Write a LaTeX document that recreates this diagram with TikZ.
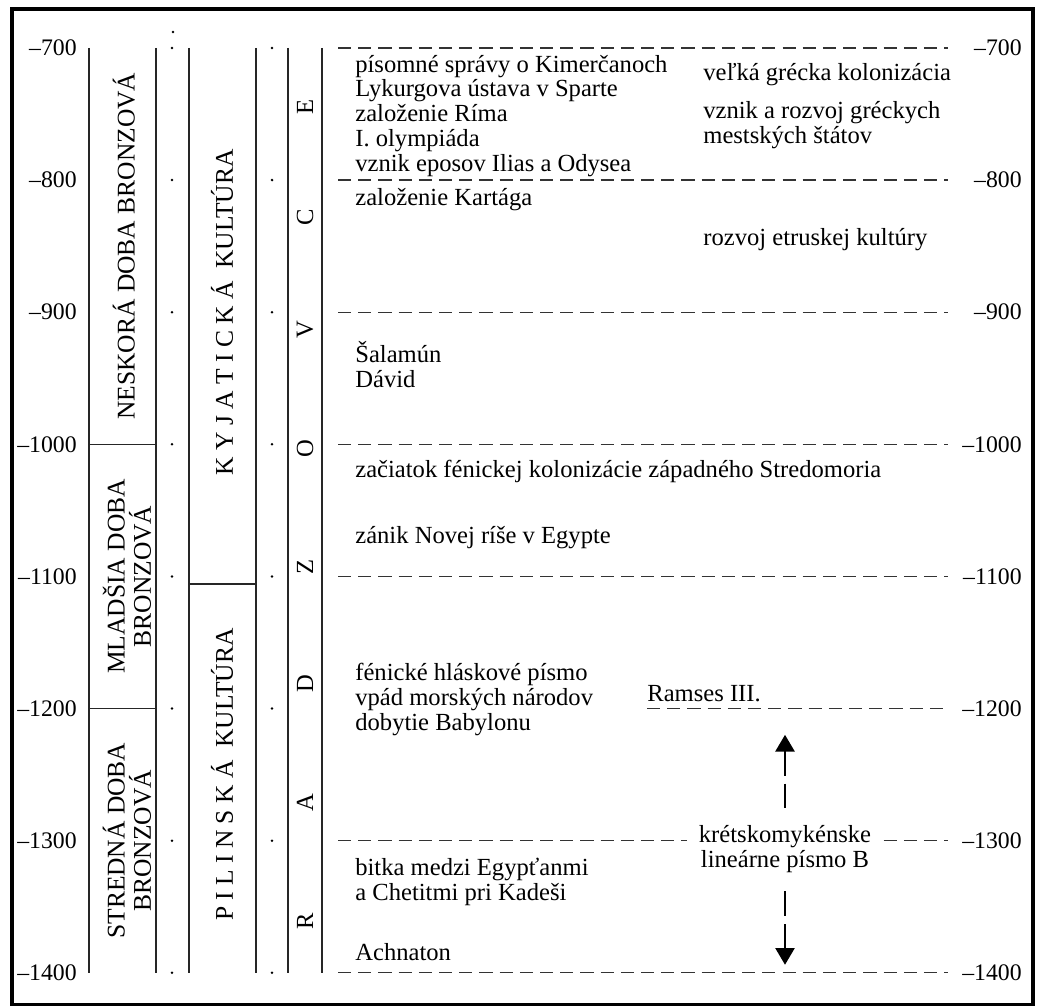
\documentclass[tikz,border=0pt]{standalone}
\usepackage{fontspec}
\setmainfont{Liberation Serif}
\usetikzlibrary{arrows.meta}
\tikzset{
  yearlab/.style={anchor=east,inner sep=0pt,font=\fontsize{13.5}{14}\selectfont},
  event/.style={anchor=west,align=left,inner sep=0pt,font=\fontsize{14}{14.2}\selectfont},
  period/.style={rotate=90,align=center,inner sep=0pt,font=\fontsize{14.5}{15}\selectfont},
  letter/.style={rotate=90,inner sep=0pt,font=\fontsize{14}{14}\selectfont},
  rule/.style={line width=0.8pt,black!85},
  tick/.style={dash pattern=on 7.5pt off 4pt,line width=0.75pt,black!80},
  span/.style={dash pattern=on 14pt off 4.5pt,line width=0.75pt,{Triangle[width=11pt,length=9.5pt]}-}
}

\begin{document}
\begin{tikzpicture}[x=0.02cm,y=0.026428cm]
  \useasboundingbox (0,-663.7) rectangle (1037,-1426.5);
  \draw[line width=1.8pt] (12,-670.5) rectangle (1033,-1424.2);
  % year scale
  \foreach \t in {700,800,...,1400}{
    \node[yearlab] (yl\t) at (77,-\t) {--\t};
    \node[yearlab] (yr\t) at (1022,-\t) {--\t};
    \fill (172,-\t) circle (0.8pt);
    \fill (272,-\t) circle (0.8pt);
  }
  \fill (173,-687.9) circle (0.8pt);
  \foreach \t in {700,800,900,1000,1100,1300,1400}{\draw[tick] (338,-\t) -- (948,-\t);}
  \draw[tick] (647,-1200) -- (948,-1200);
  % columns
  \foreach \x in {89,156,189,256,288,322}{\draw[rule] (\x,-700) -- (\x,-1400);}
  \draw[rule] (89,-1000) -- (156,-1000);
  \draw[rule] (89,-1200) -- (156,-1200);
  \draw[rule] (189,-1105.6) -- (256,-1105.6);
  \node[period] (late) at (124,-850) {NESKORÁ DOBA BRONZOVÁ};
  \node[period] (young) at (127,-1100) {MLADŠIA DOBA\\BRONZOVÁ};
  \node[period] (middle) at (127,-1300) {STREDNÁ DOBA\\BRONZOVÁ};
  \node[period] (kyjat) at (222,-900) {K Y J A T I C K Á\ \ KULTÚRA};
  \node[period] (pilin) at (222,-1250) {P I L I N S K Á\ \ KULTÚRA};
  \foreach \l/\y in {R/-1361,A/-1271,D/-1181,Z/-1093,O/-1003,V/-913,C/-828,E/-745}{
    \node[letter] (rad\l) at (305,\y) {\l};
  }
  % events
  \node[event] (kimer) at (355,-751.5) {písomné správy o Kimerčanoch\\Lykurgova ústava v Sparte\\založenie Ríma\\I. olympiáda\\vznik eposov Ilias a Odysea};
  \node[event] (kartago) at (355,-815) {založenie Kartága};
  \node[event] (kolon) at (703,-720.4) {veľká grécka kolonizácia};
  \node[event] (poleis) at (703,-758.6) {vznik a rozvoj gréckych\\mestských štátov};
  \node[event] (etrusk) at (703,-845.3) {rozvoj etruskej kultúry};
  \node[event] (salamun) at (355,-939.5) {Šalamún\\Dávid};
  \node[event] (fenik) at (355,-1020.9) {začiatok fénickej kolonizácie západného Stredomoria};
  \node[event] (egypt) at (355,-1070.8) {zánik Novej ríše v Egypte};
  \node[event] (pismo) at (355,-1193.4) {fénické hláskové písmo\\vpád morských národov\\dobytie Babylonu};
  \node[event,anchor=base west] (ramses) at (647,-1195) {Ramses III.};
  \node[event,align=center,anchor=center,fill=white,inner xsep=7pt] (kreta) at (785,-1306.2) {krétskomykénske\\lineárne písmo B};
  \node[event] (kades) at (355,-1331.5) {bitka medzi Egypťanmi\\a Chetitmi pri Kadeši};
  \node[event] (achnaton) at (355,-1384.1) {Achnaton};
  \coordinate (uptip) at (785,-1219.9);
  \coordinate (downtip) at (785,-1393.9);
  \draw[span,shorten >=5pt] (uptip) -- (kreta.north);
  \draw[span,shorten >=8pt] (downtip) -- (kreta.south);
\end{tikzpicture}
\end{document}
